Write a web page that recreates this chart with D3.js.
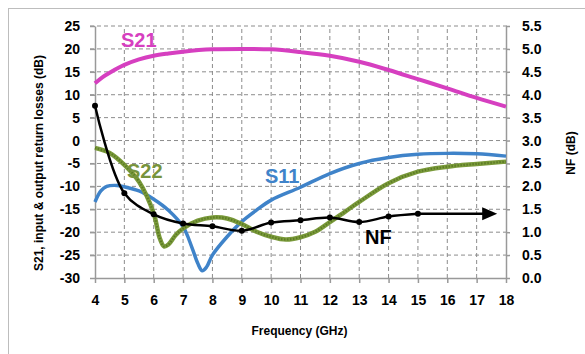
<!DOCTYPE html>
<html lang="en">
<head>
    <meta charset="UTF-8">
    <title>S-parameters and NF</title>
    <script src="https://cdn.jsdelivr.net/npm/d3@7"></script>
    <style>
        html, body {
            margin: 0;
            padding: 0;
            background: #fff;
            overflow: hidden;
        }
        text {
            font-family: "Liberation Sans", Arial, sans-serif;
            font-weight: bold;
        }
        .grid line {
            stroke: #8c8c8c;
            stroke-width: 1px;
            stroke-dasharray: 4, 3;
        }
        .axis path, .axis line {
            stroke: #999;
            stroke-width: 1.5px;
        }
        .axis text {
            font-size: 14px;
            fill: #000;
        }
    </style>
</head>
<body>
<script>
    let width = 585;
    let height = 354;

    // frequency axis (GHz)
    let freqTicks = d3.range(4, 19, 1);
    let dbTicks = [-30, -25, -20, -15, -10, -5, 0, 5, 10, 15, 20, 25];
    let nfTicks = [0, 0.5, 1, 1.5, 2, 2.5, 3, 3.5, 4, 4.5, 5, 5.5];

    // [GHz, dB]
    let s21 = [[4, 12.5], [4.25, 13.8], [4.5, 14.8], [5, 16.5], [5.5, 17.7], [6, 18.5], [6.5, 19.0],
        [7, 19.4], [8, 19.9], [9, 20.0], [10, 19.9], [11, 19.3], [12, 18.5], [13, 17.2], [14, 15.4],
        [15, 13.4], [16, 11.4], [17, 9.3], [18, 7.4]];

    let s11 = [[4, -13.4], [4.2, -11], [4.4, -10], [4.75, -9.8], [5, -10.1], [5.5, -11], [6, -12.8],
        [6.5, -15.2], [7, -18.8], [7.3, -23.3], [7.5, -26.8], [7.65, -28.4], [7.8, -27.6], [8, -25],
        [8.5, -21], [9, -17.7], [9.5, -15.2], [10, -13], [11, -10.2], [12, -7.2], [13, -5.0],
        [14, -3.7], [15, -3.0], [16, -2.8], [17, -2.9], [18, -3.4]];

    let s22 = [[4, -1.6], [4.5, -2.7], [5, -5.3], [5.5, -9], [6, -15.9], [6.2, -21.2], [6.35, -23.1],
        [6.5, -22.7], [6.75, -20.6], [7, -19.2], [7.5, -17.5], [8, -16.8], [8.5, -17.0], [9, -18.2],
        [9.5, -19.9], [10, -21], [10.5, -21.6], [11, -21.1], [11.5, -19.9], [12, -17.8], [12.5, -15.6],
        [13, -13.4], [14, -9.3], [15, -6.8], [16, -5.7], [17, -5.1], [18, -4.6]];

    // [GHz, NF dB]
    let nf = [[4, 3.76], [5, 1.85], [6, 1.39], [7, 1.19], [8, 1.13], [9, 1.03], [10, 1.21],
        [11, 1.26], [12, 1.32], [13, 1.22], [14, 1.34], [15, 1.40]];
    let nfArrowEnd = 17.7;

    let margin = {left: 95, right: 79, top: 26, bottom: 76};

    let svg = d3.select('body').append('svg')
        .attr('width', width)
        .attr('height', height);

    // outer frame
    svg.append('rect')
        .attr('x', 8.5).attr('y', 8.5)
        .attr('width', width + 10).attr('height', height + 10)
        .attr('fill', 'none')
        .attr('stroke', '#bdbdbd');

    let x = d3.scaleLinear().domain([4, 18]).range([margin.left, width - margin.right]);
    let y = d3.scaleLinear().domain([-30, 25]).range([height - margin.bottom, margin.top]);
    let yNf = d3.scaleLinear().domain([0, 5.5]).range([height - margin.bottom, margin.top]);

    // grid
    let grid = svg.append('g').classed('grid', true);
    grid.selectAll('.v')
        .data(freqTicks.slice(1, -1)).enter()
        .append('line')
        .attr('x1', d => x(d)).attr('x2', d => x(d))
        .attr('y1', y(-30)).attr('y2', y(25));
    grid.selectAll('.h')
        .data(dbTicks.slice(1)).enter()
        .append('line')
        .attr('x1', x(4) - 5).attr('x2', x(18) + 4)
        .attr('y1', d => y(d)).attr('y2', d => y(d));

    // axes (plain hyphen minus, like the original)
    svg.append('g').classed('axis', true)
        .attr('transform', `translate(0,${y(-30)})`)
        .call(d3.axisBottom(x).tickValues(freqTicks).tickSize(5).tickPadding(12).tickSizeOuter(0))
        .call(g => g.selectAll('text').attr('dy', '0.71em'));

    svg.append('g').classed('axis', true)
        .attr('transform', `translate(${x(4)},0)`)
        .call(d3.axisLeft(y).tickValues(dbTicks).tickFormat(d => String(d))
            .tickSize(5).tickPadding(10).tickSizeOuter(0));

    svg.append('g').classed('axis', true)
        .attr('transform', `translate(${x(18)},0)`)
        .call(d3.axisRight(yNf).tickValues(nfTicks).tickFormat(d => d.toFixed(1))
            .tickSize(4).tickPadding(12).tickSizeOuter(0));

    // axis titles
    svg.append('text')
        .attr('x', (x(4) + x(18)) / 2 - 1)
        .attr('y', 335)
        .attr('text-anchor', 'middle')
        .attr('font-size', 12)
        .text('Frequency (GHz)');

    svg.append('text')
        .attr('transform', `translate(43,163) rotate(-90)`)
        .attr('text-anchor', 'middle')
        .attr('font-size', 12)
        .text('S21, input  & output return losses (dB)');

    svg.append('text')
        .attr('transform', `translate(575,153) rotate(-90)`)
        .attr('text-anchor', 'middle')
        .attr('font-size', 12)
        .text('NF (dB)');

    // curves
    let line = d3.line()
        .x(d => x(d[0]))
        .y(d => y(d[1]))
        .curve(d3.curveCatmullRom.alpha(0.5));

    svg.append('path')
        .datum(s21)
        .attr('d', line)
        .attr('fill', 'none')
        .attr('stroke', '#d63fc0')
        .attr('stroke-width', 4);

    svg.append('path')
        .datum(s11)
        .attr('d', line)
        .attr('fill', 'none')
        .attr('stroke', '#3f83c9')
        .attr('stroke-width', 3.5);

    svg.append('path')
        .datum(s22)
        .attr('d', line)
        .attr('fill', 'none')
        .attr('stroke', '#7a9a3a')
        .attr('stroke-width', 4.5);
    svg.append('path')
        .datum(s22)
        .attr('d', line)
        .attr('fill', 'none')
        .attr('stroke', '#5c7a26')
        .attr('stroke-width', 2.2)
        .attr('stroke-dasharray', '1.4,1.6');

    // noise figure
    let nfLine = d3.line()
        .x(d => x(d[0]))
        .y(d => yNf(d[1]))
        .curve(d3.curveCatmullRom.alpha(0.5));

    let last = nf[nf.length - 1];
    svg.append('path')
        .datum(nf)
        .attr('d', nfLine)
        .attr('fill', 'none')
        .attr('stroke', '#000')
        .attr('stroke-width', 2.5);

    svg.append('line')
        .attr('x1', x(last[0])).attr('y1', yNf(last[1]))
        .attr('x2', x(nfArrowEnd) - 12).attr('y2', yNf(last[1]))
        .attr('stroke', '#000')
        .attr('stroke-width', 2.5);

    let tipX = x(nfArrowEnd);
    let tipY = yNf(last[1]);
    svg.append('path')
        .attr('d', `M${tipX},${tipY} L${tipX - 15},${tipY - 6.5} L${tipX - 15},${tipY + 6.5} Z`)
        .attr('fill', '#000');

    svg.selectAll('.nf-dot')
        .data(nf).enter()
        .append('circle')
        .attr('cx', d => x(d[0]))
        .attr('cy', d => yNf(d[1]))
        .attr('r', 3)
        .attr('fill', '#000');

    // series labels
    let labels = [
        {text: 'S21', x: 121, y: 47, color: '#d63fc0'},
        {text: 'S22', x: 127, y: 177.5, color: '#77933c'},
        {text: 'S11', x: 265, y: 182.5, color: '#3f83c9'},
        {text: 'NF', x: 365, y: 243.5, color: '#000'}
    ];
    svg.selectAll('.lbl')
        .data(labels).enter()
        .append('text')
        .attr('x', d => d.x)
        .attr('y', d => d.y)
        .attr('font-size', 20)
        .attr('fill', d => d.color)
        .text(d => d.text);
</script>
</body>
</html>
